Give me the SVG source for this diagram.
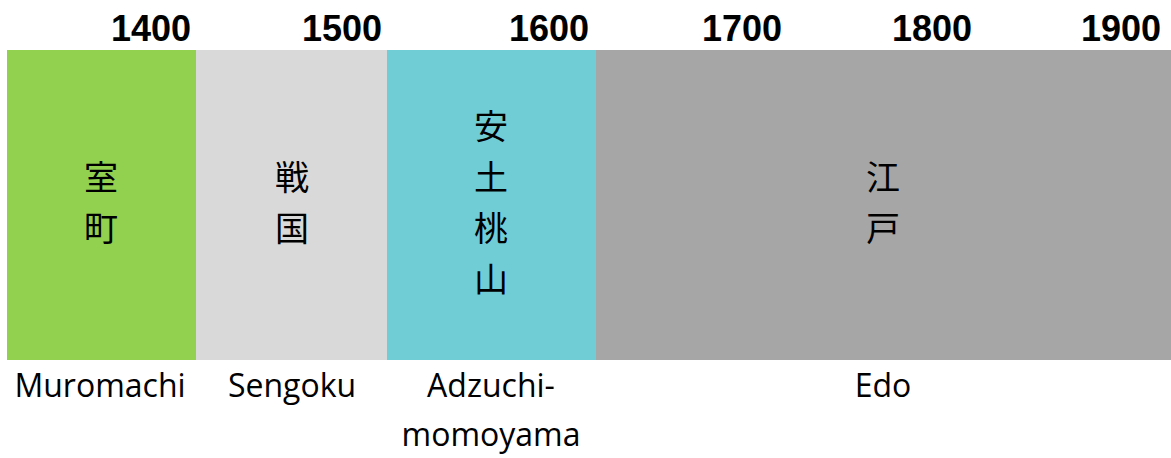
<svg xmlns="http://www.w3.org/2000/svg" width="1171" height="458" viewBox="0 0 1171 458">
<style>
.yr{font-family:"Liberation Sans",Arial,sans-serif;font-weight:bold;font-size:36px;fill:#000;text-anchor:end}
.kj{font-family:"Noto Sans CJK JP",sans-serif;font-size:34px;font-weight:400;fill:#000;text-anchor:middle}
.en{font-family:"Open Sans",sans-serif;font-size:32px;fill:#000;text-anchor:middle}
</style>
<rect width="1171" height="458" fill="#fff"/>
<g id="years">
<text class="yr" x="191" y="41">1400</text>
<text class="yr" x="382" y="41">1500</text>
<text class="yr" x="589" y="41">1600</text>
<text class="yr" x="782" y="41">1700</text>
<text class="yr" x="972" y="41">1800</text>
<text class="yr" x="1161" y="41">1900</text>
</g>
<g id="muromachi">
<rect x="7" y="50" width="189" height="310" fill="#92D050"/>
<text class="kj" x="101" y="190">室</text>
<text class="kj" x="101" y="241">町</text>
<text class="en" x="100" y="397">Muromachi</text>
</g>
<g id="sengoku">
<rect x="196" y="50" width="191" height="310" fill="#D9D9D9"/>
<text class="kj" x="292" y="190">戦</text>
<text class="kj" x="292" y="241">国</text>
<text class="en" x="292" y="397">Sengoku</text>
</g>
<g id="azuchimomoyama">
<rect x="387" y="50" width="209" height="310" fill="#70CDD5"/>
<text class="kj" x="491" y="139">安</text>
<text class="kj" x="491" y="190">土</text>
<text class="kj" x="491" y="241">桃</text>
<text class="kj" x="491" y="292">山</text>
<text class="en" x="491" y="397">Adzuchi-</text>
<text class="en" x="491" y="446">momoyama</text>
</g>
<g id="edo">
<rect x="596" y="50" width="575" height="310" fill="#A6A6A6"/>
<text class="kj" x="883" y="190">江</text>
<text class="kj" x="883" y="241">戸</text>
<text class="en" x="883" y="397">Edo</text>
</g>
<g id="connectors"/>
</svg>
